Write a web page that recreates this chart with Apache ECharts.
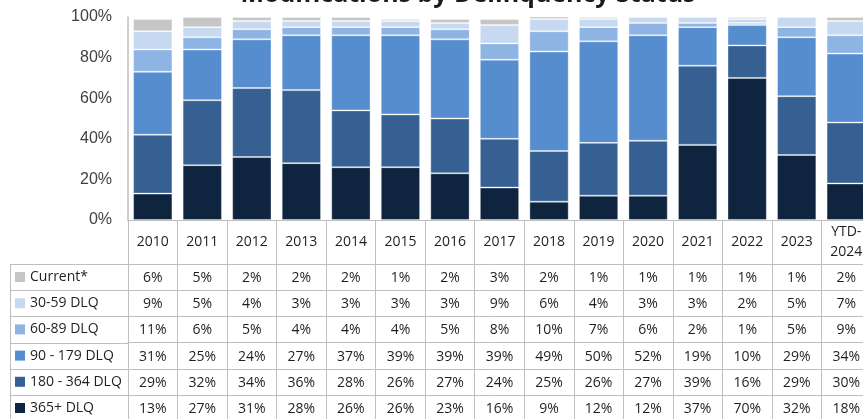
<!DOCTYPE html>
<html>
<head>
<meta charset="utf-8">
<script src="https://cdn.jsdelivr.net/npm/echarts@6/dist/echarts.min.js"></script>
<style>
  html, body { margin: 0; padding: 0; background: #ffffff; }
  #chart { width: 863px; height: 419px; }
</style>
</head>
<body>
<div id="chart"></div>
<script>
// Modification shares by delinquency bucket, in percent
const categories = ['2010', '2011', '2012', '2013', '2014', '2015', '2016', '2017', '2018', '2019', '2020', '2021', '2022', '2023', 'YTD-\n2024'];
const current   = [6, 5, 2, 2, 2, 1, 2, 3, 2, 1, 1, 1, 1, 1, 2];
const dlq30to59 = [9, 5, 4, 3, 3, 3, 3, 9, 6, 4, 3, 3, 2, 5, 7];
const dlq60to89 = [11, 6, 5, 4, 4, 4, 5, 8, 10, 7, 6, 2, 1, 5, 9];
const dlq90to179 = [31, 25, 24, 27, 37, 39, 39, 39, 49, 50, 52, 19, 10, 29, 34];
const dlq180to364 = [29, 32, 34, 36, 28, 26, 27, 24, 25, 26, 27, 39, 16, 29, 30];
const dlq365plus = [13, 27, 31, 28, 26, 26, 23, 16, 9, 12, 12, 37, 70, 32, 18];
const yTicks = [0, 20, 40, 60, 80, 100];

// Table rows, top to bottom
const rows = [
  { name: 'Current*',      values: current,     color: '#C6C6C6' },
  { name: '30-59 DLQ',     values: dlq30to59,   color: '#C6D9F1' },
  { name: '60-89 DLQ',     values: dlq60to89,   color: '#8DB4E2' },
  { name: '90 - 179 DLQ',  values: dlq90to179,  color: '#568DCF' },
  { name: '180 - 364 DLQ', values: dlq180to364, color: '#366092' },
  { name: '365+ DLQ',      values: dlq365plus,  color: '#0F243E' }
];

const GRID_LEFT = 128, GRID_TOP = 17, GRID_W = 743, GRID_H = 203;
const HEADER_H = 44, ROW_H = 26.2;
const LINE = '#BFBFBF';
const TABLE_FONT = 'Open Sans';
const TEXT = '#1F1F1F';

const chart = echarts.init(document.getElementById('chart'), null, { renderer: 'canvas' });

// Header axis carries the category labels; one extra axis per table row
const xAxes = [{
  type: 'category',
  data: categories,
  position: 'bottom',
  gridIndex: 0,
  boundaryGap: true,
  axisLine: { show: true, lineStyle: { color: LINE, width: 1 } },
  axisTick: { show: true, interval: 0, alignWithLabel: false, length: HEADER_H, lineStyle: { color: LINE } },
  axisLabel: {
    interval: 0, margin: HEADER_H / 2, verticalAlign: 'middle', lineHeight: 20,
    fontFamily: TABLE_FONT, fontSize: 14, color: TEXT
  },
  splitLine: { show: false }
}];
rows.forEach((r, i) => {
  xAxes.push({
    type: 'category',
    data: r.values.map(v => v + '%'),
    position: 'bottom',
    gridIndex: 0,
    offset: HEADER_H + i * ROW_H,
    boundaryGap: true,
    axisLine: { show: true, onZero: false, lineStyle: { color: LINE, width: 1 } },
    axisTick: { show: true, interval: 0, alignWithLabel: false, length: ROW_H, lineStyle: { color: LINE } },
    axisLabel: {
      interval: 0, margin: ROW_H / 2 + 1, verticalAlign: 'middle', lineHeight: 14,
      fontFamily: TABLE_FONT, fontSize: 14, color: TEXT
    },
    splitLine: { show: false }
  });
});

// Stacked from the bottom: longest delinquency first
const series = rows.slice().reverse().map(r => ({
  name: r.name,
  type: 'bar',
  stack: 'share',
  xAxisIndex: 0,
  yAxisIndex: 0,
  barCategoryGap: '20.6%',
  data: r.values,
  itemStyle: { color: r.color, borderColor: 'rgba(255,255,255,0.35)', borderWidth: 1 },
  emphasis: { disabled: true }
}));

// Borders of the row-name column of the table
const graphics = [];
const tableLeft = 10.5;
for (let i = 0; i <= rows.length; i++) {
  const y = Math.round(GRID_TOP + GRID_H + HEADER_H + i * ROW_H) + 0.5;
  graphics.push({
    type: 'line', silent: true,
    shape: { x1: tableLeft, y1: y, x2: GRID_LEFT, y2: y },
    style: { stroke: LINE, lineWidth: 1 }
  });
}
graphics.push({
  type: 'line', silent: true,
  shape: { x1: tableLeft, y1: GRID_TOP + GRID_H + HEADER_H, x2: tableLeft, y2: GRID_TOP + GRID_H + HEADER_H + rows.length * ROW_H },
  style: { stroke: LINE, lineWidth: 1 }
});

chart.setOption({
  animation: false,
  backgroundColor: '#ffffff',
  title: {
    text: 'Modifications by Delinquency Status',
    left: 468,
    top: -20,
    padding: 0,
    textAlign: 'center',
    textStyle: { fontFamily: TABLE_FONT, fontWeight: 'bold', fontSize: 25, lineHeight: 30, color: '#1A1A1A' }
  },
  legend: {
    orient: 'vertical',
    left: 15,
    top: GRID_TOP + GRID_H + HEADER_H + 6,
    padding: 0,
    itemGap: ROW_H - 14,
    itemWidth: 10,
    itemHeight: 10,
    icon: 'rect',
    selectedMode: false,
    itemStyle: { borderWidth: 0 },
    textStyle: { fontFamily: TABLE_FONT, fontSize: 14, lineHeight: 14, color: TEXT },
    data: rows.map(r => r.name)
  },
  grid: {
    left: GRID_LEFT, top: GRID_TOP, width: GRID_W, height: GRID_H,
    containLabel: false, outerBoundsMode: 'none'
  },
  xAxis: xAxes,
  yAxis: {
    type: 'value',
    min: yTicks[0],
    max: yTicks[yTicks.length - 1],
    interval: yTicks[1] - yTicks[0],
    axisLine: { show: true, lineStyle: { color: LINE, width: 1.5 } },
    axisTick: { show: false },
    splitLine: { show: false },
    axisLabel: {
      formatter: '{value}%', margin: 16,
      fontFamily: 'Liberation Sans', fontSize: 16, color: '#404040'
    }
  },
  graphic: graphics,
  series: series
});
</script>
</body>
</html>
